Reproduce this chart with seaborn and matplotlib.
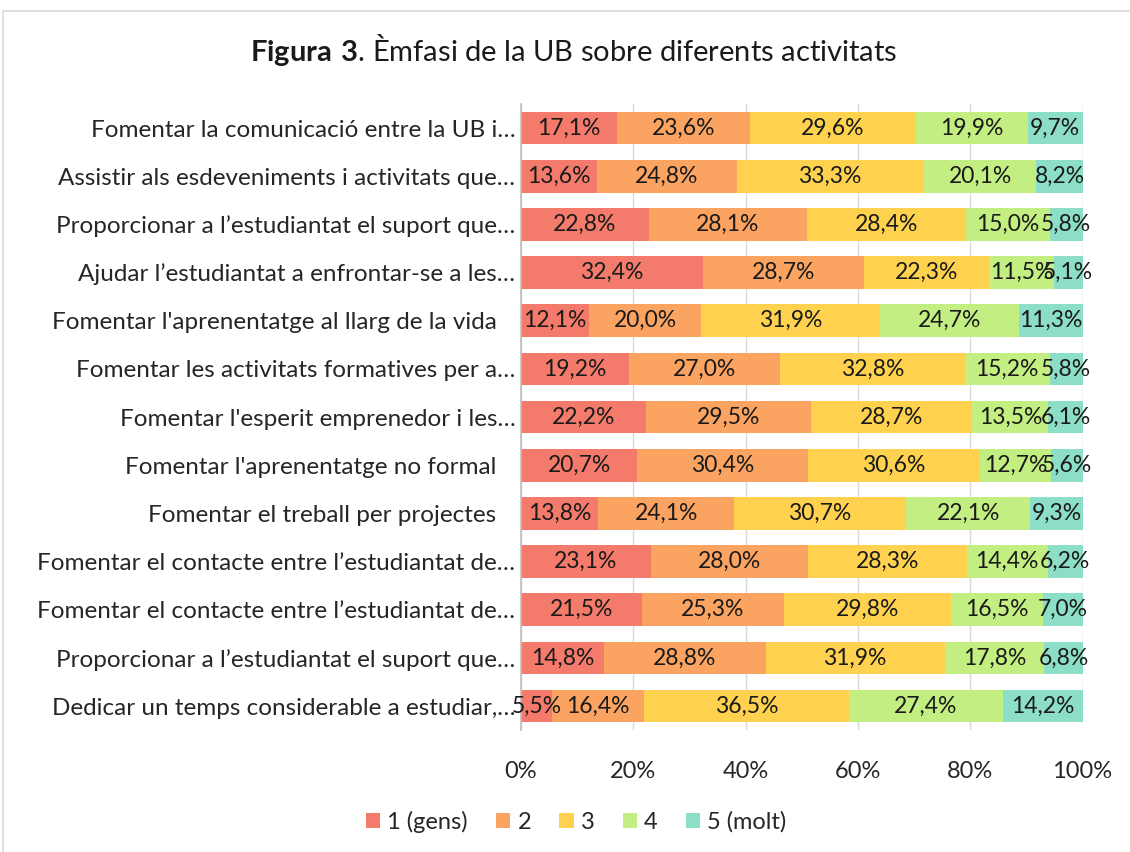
import numpy as np
import pandas as pd
import matplotlib
matplotlib.use("Agg")
import matplotlib.pyplot as plt
from matplotlib.patches import Rectangle, Patch
import seaborn as sns

categories = [
    "Fomentar la comunicació entre la UB i…",
    "Assistir als esdeveniments i activitats que…",
    "Proporcionar a l’estudiantat el suport que…",
    "Ajudar l’estudiantat a enfrontar-se a les…",
    "Fomentar l'aprenentatge al llarg de la vida   ",
    "Fomentar les activitats formatives per a…",
    "Fomentar l'esperit emprenedor i les…",
    "Fomentar l'aprenentatge no formal   ",
    "Fomentar el treball per projectes   ",
    "Fomentar el contacte entre l’estudiantat de…",
    "Fomentar el contacte entre l’estudiantat de…",
    "Proporcionar a l’estudiantat el suport que…",
    "Dedicar un temps considerable a estudiar,…",
]
series_names = ["1 (gens)", "2", "3", "4", "5 (molt)"]
s1 = [17.1, 13.6, 22.8, 32.4, 12.1, 19.2, 22.2, 20.7, 13.8, 23.1, 21.5, 14.8, 5.5]
s2 = [23.6, 24.8, 28.1, 28.7, 20.0, 27.0, 29.5, 30.4, 24.1, 28.0, 25.3, 28.8, 16.4]
s3 = [29.6, 33.3, 28.4, 22.3, 31.9, 32.8, 28.7, 30.6, 30.7, 28.3, 29.8, 31.9, 36.5]
s4 = [19.9, 20.1, 15.0, 11.5, 24.7, 15.2, 13.5, 12.7, 22.1, 14.4, 16.5, 17.8, 27.4]
s5 = [9.7, 8.2, 5.8, 5.1, 11.3, 5.8, 6.1, 5.6, 9.3, 6.2, 7.0, 6.8, 14.2]
colors = ["#F47B6B", "#FBA361", "#FED14F", "#C3EF82", "#8CDEC6"]

FONT = "Lato"
sns.set_theme(style="white")
plt.rcParams["font.family"] = [FONT, "DejaVu Sans"]
plt.rcParams["mathtext.fontset"] = "custom"
plt.rcParams["mathtext.bf"] = f"{FONT}:bold"
plt.rcParams["mathtext.rm"] = FONT

vals = np.array([s1, s2, s3, s4, s5])
totals = vals.sum(axis=0)
pct = vals / totals * 100
cum = np.cumsum(pct, axis=0)

keys = [f"r{i}" for i in range(len(categories))]

fig = plt.figure(figsize=(11.3, 8.52), dpi=100)
ax = fig.add_axes([0.461, 0.143, 0.497, 0.735])

for k in range(len(series_names) - 1, -1, -1):
    df = pd.DataFrame({"key": keys, "val": cum[k]})
    sns.barplot(data=df, x="val", y="key", order=keys, color=colors[k],
                orient="h", width=0.68, ax=ax, saturation=1,
                edgecolor="none", linewidth=0)

for k in range(len(series_names)):
    for i in range(len(categories)):
        c = cum[k, i] - pct[k, i] / 2
        ax.text(c, i, f"{vals[k, i]:.1f}%".replace(".", ","), ha="center",
                va="center", fontsize=16.5, color="#1a1a1a")

ax.set_xlim(0, 100)
ax.set_xticks([0, 20, 40, 60, 80, 100])
ax.set_xticklabels([f"{t}%" for t in [0, 20, 40, 60, 80, 100]], fontsize=17, color="#262626")
ax.set_yticks(range(len(categories)))
ax.set_yticklabels(categories, fontsize=17.5, color="#262626")
ax.set_xlabel("")
ax.set_ylabel("")
ax.tick_params(axis="both", length=0)
ax.tick_params(axis="x", pad=22)
ax.tick_params(axis="y", pad=4)
ax.grid(axis="x", color="#D9D9D9", linewidth=1)
ax.set_axisbelow(True)
for s in ["top", "right", "bottom"]:
    ax.spines[s].set_visible(False)
ax.spines["left"].set_color("#BFBFBF")
ax.spines["left"].set_linewidth(1.2)

handles = [Patch(facecolor=c, edgecolor="none") for c in colors]
fig.legend(handles, series_names, loc="center", bbox_to_anchor=(0.51, 1 - 822 / 852),
           ncol=5, frameon=False, fontsize=17, handlelength=0.6, handleheight=0.6,
           handletextpad=0.3, columnspacing=1.2)

fig.text(0.508, 1 - 50 / 852, r"$\bf{Figura\ 3}$. Èmfasi de la UB sobre diferents activitats",
         ha="center", va="center", fontsize=21, color="#1a1a1a")

fig.patches.append(Rectangle((0.003, -0.01), 1.2, 1 - 11 / 852 + 0.01, transform=fig.transFigure,
                             fill=False, edgecolor="#D9D9D9", linewidth=1.2))

fig.savefig("out.png", dpi=100)
